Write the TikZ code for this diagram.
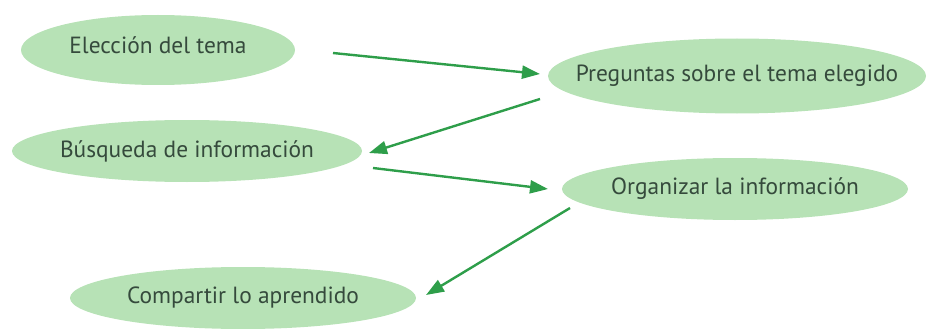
\documentclass[tikz,border=0pt]{standalone}
\usepackage{fontspec}
\setmainfont{PT Sans}
\usetikzlibrary{shapes.geometric,arrows.meta,calc}
\definecolor{ellfill}{HTML}{B7E2B6}
\definecolor{txtcol}{HTML}{354A3C}
\definecolor{arrcol}{HTML}{2E9E4A}
\tikzset{
  stepell/.style={ellipse, fill=ellfill, draw=none, inner sep=0pt, outer sep=0pt},
  steptext/.style={inner sep=0pt, text=txtcol, font=\fontsize{23.4}{26}\selectfont},
  flowarrow/.style={draw=arrcol, line width=2.4pt, -{Triangle[length=18pt,width=13pt]}}
}
\begin{document}
\begin{tikzpicture}[x=1pt,y=-1pt]
\useasboundingbox (0,0) rectangle (932,329);
\node[stepell, minimum width=274pt, minimum height=70pt] (e1) at (158,50) {};
\node[stepell, minimum width=378pt, minimum height=75pt] (e2) at (737,76) {};
\node[stepell, minimum width=350pt, minimum height=62pt] (e3) at (187,151) {};
\node[stepell, minimum width=346pt, minimum height=62pt] (e4) at (735,189) {};
\node[stepell, minimum width=346pt, minimum height=62pt] (e5) at (243,298) {};
\node[steptext, yshift=5pt] (t1) at (e1) {Elección del tema};
\node[steptext] (t2) at (e2) {Preguntas sobre el tema elegido};
\node[steptext] (t3) at (e3) {Búsqueda de información};
\node[steptext] (t4) at (e4) {Organizar la información};
\node[steptext] (t5) at (e5) {Compartir lo aprendido};
\draw[flowarrow] ($(e1.east)+(38,3)$) -- ($(e2.west)+(-8,-2)$);
\draw[flowarrow] ($(e2.west)+(-8,23)$) -- ($(e3.east)+(7,2)$);
\draw[flowarrow] ($(e3.east)+(11,17)$) -- ($(e4.west)+(-14,0)$);
\draw[flowarrow] ($(e4.west)+(8,19)$) -- ($(e5.east)+(10,-3)$);
\end{tikzpicture}
\end{document}
